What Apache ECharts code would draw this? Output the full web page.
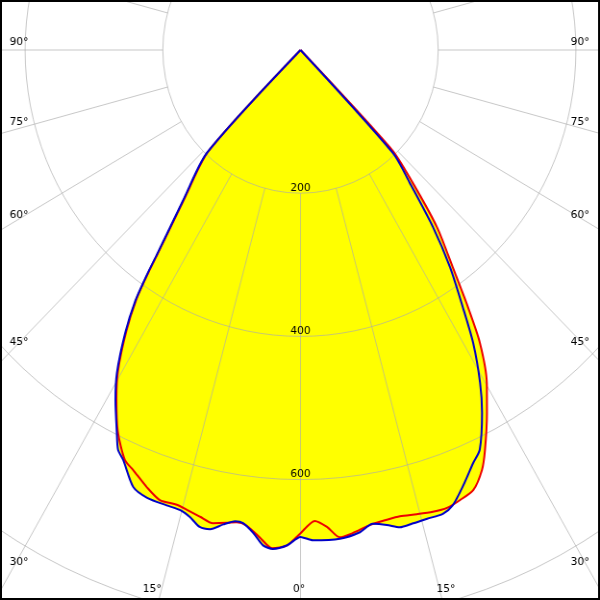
<!DOCTYPE html>
<html>
<head>
<meta charset="utf-8">
<script src="https://cdn.jsdelivr.net/npm/echarts@6/dist/echarts.min.js"></script>
<style>
html,body{margin:0;padding:0;background:#fff;overflow:hidden;}
#wrap{width:600px;height:600px;overflow:hidden;position:relative;}
#c{height:600px;transform-origin:0 0;}
</style>
</head>
<body>
<div id="wrap"><div id="c"></div></div>
<script>
// ---- data (intensity vs gamma angle in degrees, 0 = straight down, + = right) ----
const radiusTicks = [0, 200, 400, 600, 800, 1000];
const angleTicks = [-90, -75, -60, -45, -30, -15, 0, 15, 30, 45, 60, 75, 90];

const blueAngles = [-90, -45, -43.4, -39.1, -36.1, -35.4, -34.4, -32.8, -30.6, -28.8, -26.5, -25.4, -24.2,
  -21.7, -19.6, -17.0, -15.2, -13.8, -12.4, -11.1, -9.6, -8.2, -7.2, -5.8, -4.5, -3.3, -1.6, 0,
  1.5, 4.8, 7.3, 9.0, 10.7, 12.2, 13.9, 15.7, 17.7, 19.2, 21.1, 23.5, 25.0, 27.5, 29.3, 31.5,
  33.3, 35.6, 37.9, 40.5, 43.0, 45, 90];
const blueValues = [0, 0, 198, 270, 355, 385, 425, 470, 524, 558, 598, 618, 628,
  657, 664, 665, 666, 672, 682, 682, 672, 665, 666, 678, 694, 698, 692, 680,
  685, 685, 679, 670, 675, 682, 681, 680, 680, 673, 654, 629, 616, 571, 533, 480,
  429, 373, 313, 245, 197, 0, 0];

const redAngles = [-90, -45, -43.4, -39.1, -36.1, -35.4, -34.4, -32.8, -30.6, -28.8, -26.5, -24.0, -22.5,
  -20.1, -18.0, -15.8, -14.4, -12.6, -10.9, -9.2, -8.0, -6.7, -4.9, -3.4, -1.6, 0,
  1.8, 3.3, 4.8, 6.4, 8.7, 10.8, 12.5, 14.6, 16.6, 18.4, 20.2, 22.2, 24.2, 25.6, 28.1, 30.2,
  32.5, 34.1, 36.1, 38.7, 41.3, 43.6, 45.5, 90];
const redValues = [0, 0, 195, 267, 352, 382, 422, 467, 521, 555, 595, 627, 635,
  650, 661, 660, 663, 668, 673, 669, 666, 669, 684, 697, 692, 675,
  658, 667, 683, 679, 671, 668, 667, 670, 673, 674, 670, 664, 643, 620, 575, 538,
  485, 434, 375, 317, 247, 193, 0, 0];

// ---- layout ----
const W = 600, H = 600;
const CW = 624;                 // drawing width before horizontal squeeze
const K = W / CW;               // horizontal squeeze of the picture
const CXF = 300.5, CYF = 50;    // centre in final picture pixels
const CX = CXF / K, CY = CYF;   // centre in chart pixels
const RMAX = 1000, RPX = 716;   // 0.716 px per unit vertically
const gridColor = 'rgba(170,170,170,0.65)';
const FONT = 'DejaVu Sans';

const el = document.getElementById('c');
el.style.width = CW + 'px';
el.style.transform = 'scaleX(' + K + ')';

function pairs(angles, values) { return angles.map((a, i) => [values[i], a]); }
const blueData = pairs(blueAngles, blueValues);
const redData = pairs(redAngles, redValues);

const chart = echarts.init(el, null, {renderer: 'canvas', width: CW, height: H});

// angle labels along the picture border (positions in final pixels, converted to chart pixels)
const labelGraphics = angleTicks.map(a => {
  const t = Math.abs(a) + '\u00B0';
  const rad = Math.abs(a) * Math.PI / 180;
  const font = '11px "' + FONT + '"';
  if (Math.abs(a) >= 30) {
    const edgeY = Math.abs(a) === 90 ? CYF : CYF + CXF / Math.tan(rad);
    return {type: 'text', z: 50, silent: true, style: {text: t, x: (a < 0 ? 9.5 : W - 10.5) / K, y: edgeY - 8.3,
      align: a < 0 ? 'left' : 'right', verticalAlign: 'middle', fill: '#000', font: font}};
  } else {
    const edgeX = CXF + (H - 2 - CYF) * Math.tan(a * Math.PI / 180);
    return {type: 'text', z: 50, silent: true, style: {text: t, x: (edgeX - 1.5) / K, y: H - 11,
      align: 'center', verticalAlign: 'middle', fill: '#000', font: font}};
  }
});

const option = {
  animation: false,
  backgroundColor: '#fff',
  polar: [
    {center: [CX, CY], radius: [0, RPX]},
    {center: [CX, CY], radius: [RPX * radiusTicks[1] / RMAX, RPX]},
    {center: [CX, CY], radius: [0, RPX]}
  ],
  angleAxis: [
    {polarIndex: 0, type: 'value', min: -180, max: 180, startAngle: 90, clockwise: false,
      axisLine: {show: false}, axisTick: {show: false}, axisLabel: {show: false}, splitLine: {show: false}},
    {polarIndex: 1, type: 'value', min: -180, max: 180, interval: 15, startAngle: 90, clockwise: false, z: 3,
      axisLine: {show: false}, axisTick: {show: false}, axisLabel: {show: false},
      splitLine: {show: true, lineStyle: {color: gridColor, width: 1}}},
    {polarIndex: 2, type: 'value', min: 0, max: 360, startAngle: 270, show: false}
  ],
  radiusAxis: [
    {polarIndex: 0, type: 'value', min: 0, max: RMAX, interval: 200, z: 3,
      axisLine: {show: false}, axisTick: {show: false}, axisLabel: {show: false},
      splitLine: {show: true, lineStyle: {color: gridColor, width: 1}}},
    {polarIndex: 1, type: 'value', min: radiusTicks[1], max: RMAX, show: false},
    {polarIndex: 2, type: 'value', min: 0, max: RMAX, interval: 200, z: 6,
      axisLine: {show: false}, axisTick: {show: false}, splitLine: {show: false},
      axisLabel: {show: true, margin: 0, align: 'center', verticalAlign: 'bottom',
        color: '#000', fontSize: 11, fontFamily: FONT,
        formatter: v => (v === 0 ? '' : String(v))}}
  ],
  series: [
    {type: 'line', coordinateSystem: 'polar', polarIndex: 0, data: blueData, z: 1, silent: true, smooth: 0.25,
      showSymbol: false, lineStyle: {opacity: 0}, areaStyle: {color: '#ffff00', opacity: 1}},
    {type: 'line', coordinateSystem: 'polar', polarIndex: 0, data: redData, z: 1, silent: true, smooth: 0.25,
      showSymbol: false, lineStyle: {opacity: 0}, areaStyle: {color: '#ffff00', opacity: 1}},
    {type: 'line', coordinateSystem: 'polar', polarIndex: 0, data: redData, z: 4, silent: true, smooth: 0.25,
      showSymbol: false, lineStyle: {color: '#ee0000', width: 2}},
    {type: 'line', coordinateSystem: 'polar', polarIndex: 0, data: blueData, z: 5, silent: true, smooth: 0.25,
      showSymbol: false, lineStyle: {color: '#0000c8', width: 2}}
  ],
  graphic: labelGraphics.concat([
    {type: 'rect', z: 100, silent: true, shape: {x: 1, y: 1, width: CW - 2, height: H - 2},
      style: {fill: 'none', stroke: '#000', lineWidth: 2}}
  ])
};
chart.setOption(option);
</script>
</body>
</html>
